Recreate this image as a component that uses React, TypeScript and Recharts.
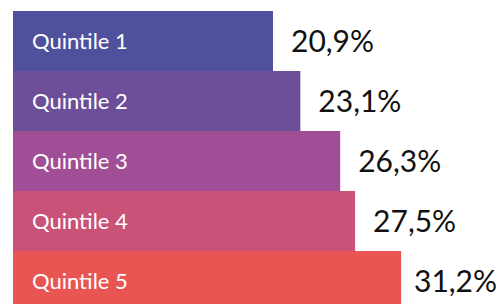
import React from "react";
import { BarChart, Bar, XAxis, YAxis, Cell, LabelList } from "recharts";

const categories = ["Quintile 1", "Quintile 2", "Quintile 3", "Quintile 4", "Quintile 5"];
const shares = [20.9, 23.1, 26.3, 27.5, 31.2];
const colors = ["#50519C", "#6C4F98", "#A04F96", "#C85278", "#E85552"];

const data = categories.map((name, i) => ({ name, value: shares[i] }));

const W = 501;
const H = 304;
const FONT = "Lato, 'Open Sans', sans-serif";

const ValueLabel = (props: any) => {
  const { x, y, width, height, value } = props;
  const text = String(value).replace(".", ",") + "%";
  let tx = x + width + 18;
  const approx = 83;
  if (tx + approx > W - 4) tx = W - 4 - approx;
  return (
    <text
      x={tx}
      y={y + height / 2}
      dy="0.36em"
      fill="#111"
      fontSize={30}
      fontFamily={FONT}
    >
      {text}
    </text>
  );
};

export default function App() {
  return (
    <div style={{ position: "absolute", left: 0, top: 0, width: W, height: H, overflow: "hidden", background: "#fff" }}>
      <BarChart
        layout="vertical"
        width={W}
        height={312}
        data={data}
        margin={{ top: 11, right: 2.84, bottom: 1, left: 13 }}
        barCategoryGap={0}
      >
        <XAxis type="number" domain={[0, 39]} hide />
        <YAxis type="category" dataKey="name" hide />
        <Bar dataKey="value" isAnimationActive={false}>
          {data.map((d, i) => (
            <Cell key={d.name} fill={colors[i]} />
          ))}
          <LabelList
            dataKey="name"
            position="insideLeft"
            offset={19}
            fill="#fff"
            fontSize={22}
            fontFamily={FONT}
          />
          <LabelList dataKey="value" content={ValueLabel} />
        </Bar>
      </BarChart>
    </div>
  );
}
